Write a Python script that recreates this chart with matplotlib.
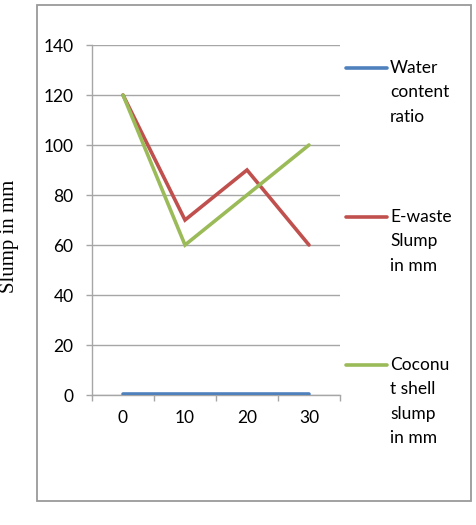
import matplotlib
matplotlib.use("Agg")
import matplotlib.pyplot as plt
from matplotlib.lines import Line2D
from matplotlib.patches import Rectangle

# ---- data ----
categories = ["0", "10", "20", "30"]
water_content_ratio = [0.5, 0.5, 0.5, 0.5]
ewaste_slump = [120, 70, 90, 60]
coconut_slump = [120, 60, 80, 100]
series_labels = ["Water\ncontent\nratio", "E-waste\nSlump\nin mm", "Coconu\nt shell\nslump\nin mm"]
y_ticks = [0, 20, 40, 60, 80, 100, 120, 140]
y_label = "Slump in mm"

colors = ["#4F81BD", "#C0504D", "#9BBB59"]
W, H = 477, 525
fig = plt.figure(figsize=(W / 100, H / 100), dpi=100)
font = "Lato"
fs = 12.5

def fx(px):
    return px / W

def fy(py):
    return 1 - py / H

ax = fig.add_axes([fx(92), fy(395), fx(340) - fx(92), fy(45) - fy(395)])
xs = list(range(len(categories)))
lines = []
for vals, c in zip([water_content_ratio, ewaste_slump, coconut_slump], colors):
    ln, = ax.plot(xs, vals, color=c, lw=2.6, solid_capstyle="round", solid_joinstyle="miter", zorder=3)
    lines.append(ln)

ax.set_xlim(-0.5, len(categories) - 0.5)
ax.set_ylim(0, 140)
ax.set_yticks(y_ticks)
ax.set_yticklabels([str(v) for v in y_ticks], fontfamily=font, fontsize=fs)
ax.yaxis.grid(True, color="#A6A6A6", lw=1.0)
ax.set_axisbelow(True)

ax.set_xticks([i - 0.5 for i in range(len(categories) + 1)])
ax.set_xticklabels([])
ax.set_xticks(xs, minor=True)
ax.set_xticklabels(categories, minor=True, fontfamily=font, fontsize=fs)
ax.tick_params(axis="x", which="major", direction="out", length=4, color="#A6A6A6", width=1)
ax.tick_params(axis="x", which="minor", length=0, pad=11)
ax.tick_params(axis="y", direction="out", length=4.3, color="#A6A6A6", width=1, pad=9)

for s in ["top", "right"]:
    ax.spines[s].set_visible(False)
for s in ["left", "bottom"]:
    ax.spines[s].set_color("#A6A6A6")
    ax.spines[s].set_linewidth(1)

# y label at the left edge
fig.text(fx(10), fy(236), y_label, rotation=90, ha="center", va="center",
         fontfamily="Liberation Serif", fontsize=15, color="black")

# legend drawn at the right
legend_y = [68, 217, 365]
for ln, lab, yy in zip(lines, series_labels, legend_y):
    fig.add_artist(Line2D([fx(346), fx(387)], [fy(yy), fy(yy)], color=ln.get_color(),
                          lw=2.6, solid_capstyle="round"))
    for k, part in enumerate(lab.split("\n")):
        fig.text(fx(390), fy(yy + 24.3 * k), part, ha="left", va="center",
                 fontfamily=font, fontsize=fs, color="black")

# outer border
fig.add_artist(Rectangle((fx(37), fy(501)), fx(471) - fx(37), fy(5) - fy(501),
                         fill=False, edgecolor="#9A9A9A", lw=1.3, transform=fig.transFigure))

fig.savefig("out.png", dpi=100)
